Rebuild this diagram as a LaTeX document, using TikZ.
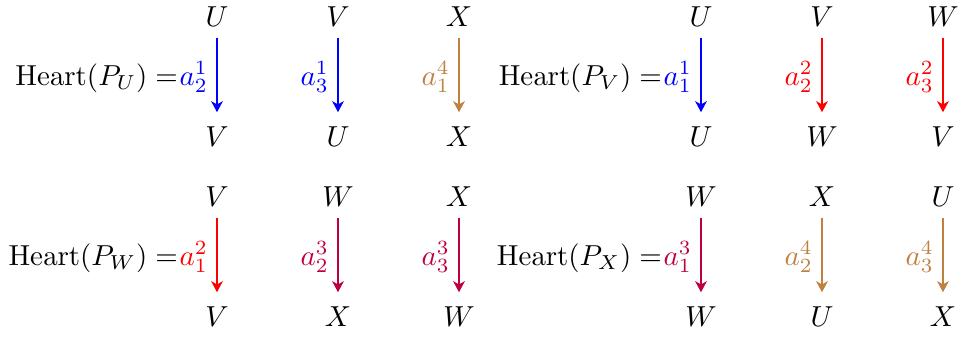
\documentclass[tikz,border=0pt]{standalone}
\usetikzlibrary{arrows.meta}
\definecolor{cbrown}{rgb}{0.75,0.5,0.25}
\definecolor{cpurple}{rgb}{0.75,0,0.25}
\begin{document}
\begin{tikzpicture}[x=0.346pt,y=-0.346pt,
  vert/.style={anchor=base,inner sep=0pt,text height=6.83pt,text depth=0pt},
  arr/.style={draw=#1,line width=0.75pt,-{Stealth[length=3.8pt,width=4pt,inset=1.1pt]},shorten <=3.46pt,shorten >=5pt},
  lab/.style={midway,anchor=east,inner sep=0pt,xshift=-2.8pt,yshift=0pt,text=#1},
  heart/.style={anchor=base east,inner sep=0pt}]
\useasboundingbox (0,0) rectangle (959,339);
\def\ya{27}\def\yb{147}\def\yc{207}\def\yd{327}
% ---------- Heart(P_U)
\node[vert] (u1t) at (217,\ya) {$U$};
\node[vert] (u1b) at (217,\yb) {$V$};
\node[vert] (u2t) at (338,\ya) {$V$};
\node[vert] (u2b) at (338,\yb) {$U$};
\node[vert] (u3t) at (459,\ya) {$X$};
\node[vert] (u3b) at (459,\yb) {$X$};
\draw[arr=blue] (u1t) -- node[lab=blue] (lu1) {$a_2^1$} (u1b);
\draw[arr=blue] (u2t) -- node[lab=blue] (lu2) {$a_3^1$} (u2b);
\draw[arr=cbrown] (u3t) -- node[lab=cbrown] (lu3) {$a_1^4$} (u3b);
\node[heart] (hu) at (lu1.base west) {$\mathrm{Heart}(P_U) =$};
% ---------- Heart(P_V)
\node[vert] (v1t) at (701,\ya) {$U$};
\node[vert] (v1b) at (701,\yb) {$U$};
\node[vert] (v2t) at (822,\ya) {$V$};
\node[vert] (v2b) at (822,\yb) {$W$};
\node[vert] (v3t) at (943,\ya) {$W$};
\node[vert] (v3b) at (943,\yb) {$V$};
\draw[arr=blue] (v1t) -- node[lab=blue] (lv1) {$a_1^1$} (v1b);
\draw[arr=red] (v2t) -- node[lab=red] (lv2) {$a_2^2$} (v2b);
\draw[arr=red] (v3t) -- node[lab=red] (lv3) {$a_3^2$} (v3b);
\node[heart] (hv) at (lv1.base west) {$\mathrm{Heart}(P_V) =$};
% ---------- Heart(P_W)
\node[vert] (w1t) at (217,\yc) {$V$};
\node[vert] (w1b) at (217,\yd) {$V$};
\node[vert] (w2t) at (338,\yc) {$W$};
\node[vert] (w2b) at (338,\yd) {$X$};
\node[vert] (w3t) at (459,\yc) {$X$};
\node[vert] (w3b) at (459,\yd) {$W$};
\draw[arr=red] (w1t) -- node[lab=red] (lw1) {$a_1^2$} (w1b);
\draw[arr=cpurple] (w2t) -- node[lab=cpurple] (lw2) {$a_2^3$} (w2b);
\draw[arr=cpurple] (w3t) -- node[lab=cpurple] (lw3) {$a_3^3$} (w3b);
\node[heart] (hw) at (lw1.base west) {$\mathrm{Heart}(P_W) =$};
% ---------- Heart(P_X)
\node[vert] (x1t) at (701,\yc) {$W$};
\node[vert] (x1b) at (701,\yd) {$W$};
\node[vert] (x2t) at (822,\yc) {$X$};
\node[vert] (x2b) at (822,\yd) {$U$};
\node[vert] (x3t) at (943,\yc) {$U$};
\node[vert] (x3b) at (943,\yd) {$X$};
\draw[arr=cpurple] (x1t) -- node[lab=cpurple] (lx1) {$a_1^3$} (x1b);
\draw[arr=cbrown] (x2t) -- node[lab=cbrown] (lx2) {$a_2^4$} (x2b);
\draw[arr=cbrown] (x3t) -- node[lab=cbrown] (lx3) {$a_3^4$} (x3b);
\node[heart] (hx) at (lx1.base west) {$\mathrm{Heart}(P_X) =$};
\end{tikzpicture}
\end{document}
